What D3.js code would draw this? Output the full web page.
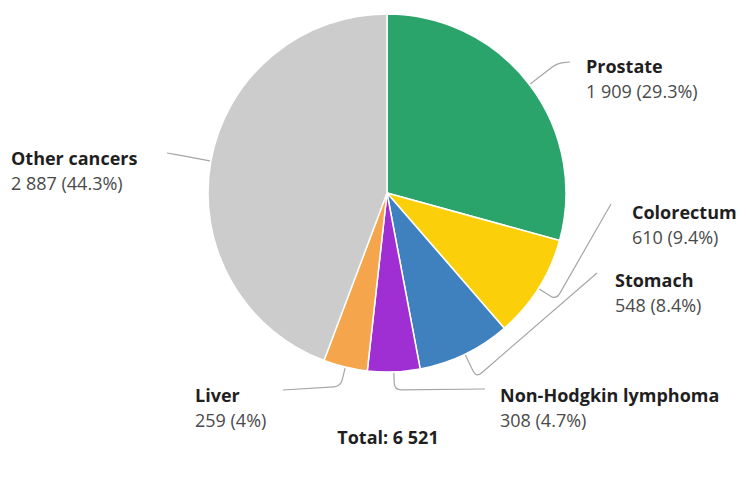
<!DOCTYPE html>
<html>
<head>
<meta charset="utf-8">
<script src="https://cdn.jsdelivr.net/npm/d3@7"></script>
<style>
  html, body { margin: 0; padding: 0; background: #ffffff; }
  svg { display: block; }
  text { font-family: "Open Sans", "Noto Sans", sans-serif; }
</style>
</head>
<body>
<svg id="chart" width="750" height="477"></svg>
<script>
// Cancer cases by site
const categories = ["Prostate", "Colorectum", "Stomach", "Non-Hodgkin lymphoma", "Liver", "Other cancers"];
const counts = [1909, 610, 548, 308, 259, 2887];
const colors = ["#2aa46b", "#fbd00b", "#3f80bf", "#a02fd3", "#f5a54b", "#cccccc"];

// Label placement: first-line centre, which side of the label the connector meets,
// radius at which the connector leaves the radial direction, connector end point.
const labelLayout = [
  { x: 586, y: 66,  side: "left",  bendR: 214, end: [570, 62] },
  { x: 632, y: 212, side: "left",  bendR: 200, end: [611, 204] },
  { x: 615, y: 280, side: "left",  bendR: 205, end: [597, 273] },
  { x: 500, y: 395, side: "left",  bendR: 197, end: [485, 389] },
  { x: 195, y: 395, side: "right", bendR: 199, end: [283, 390] },
  { x: 11,  y: 158, side: "right", bendR: 221, end: [167, 153] }
];

const W = 750, H = 477;
const cx = 387, cy = 193, radius = 179;
const fontSize = 18;

const locale = d3.formatLocale({ decimal: ".", thousands: " ", grouping: [3], currency: ["", ""] });
const fmtInt = locale.format(",d");
const total = d3.sum(counts);
const fmtPct = v => {
  const s = (Math.round(v * 1000) / 10).toFixed(1);
  return (s.endsWith(".0") ? s.slice(0, -2) : s) + "%";
};

const data = categories.map((name, i) => ({ name, value: counts[i], color: colors[i], layout: labelLayout[i] }));

const svg = d3.select("#chart");
const g = svg.append("g").attr("transform", `translate(${cx},${cy})`);

const pie = d3.pie().value(d => d.value).sort(null).startAngle(0).endAngle(2 * Math.PI);
const arcs = pie(data);

const arc = d3.arc().innerRadius(0).outerRadius(radius);

g.selectAll("path.slice")
  .data(arcs)
  .join("path")
  .attr("class", "slice")
  .attr("d", arc)
  .attr("fill", d => d.data.color)
  .attr("stroke", "#ffffff")
  .attr("stroke-width", 1.5)
  .attr("stroke-linejoin", "round");

// Point at a given radius along the slice's middle angle, in chart coordinates
function polar(d, r) {
  const a = (d.startAngle + d.endAngle) / 2;
  return [cx + r * Math.sin(a), cy - r * Math.cos(a)];
}

// Connector: radial leg out of the slice, rounded bend, then on to the label
function connectorPath(d) {
  const L = d.data.layout;
  const p0 = polar(d, radius + 1);
  const p1 = polar(d, L.bendR);
  const p2 = L.end;
  const rc = 7;
  const d01 = Math.hypot(p1[0] - p0[0], p1[1] - p0[1]);
  const d12 = Math.hypot(p2[0] - p1[0], p2[1] - p1[1]);
  const k1 = Math.min(rc, d01 / 2), k2 = Math.min(rc, d12 / 2);
  const a = [p1[0] - (p1[0] - p0[0]) / d01 * k1, p1[1] - (p1[1] - p0[1]) / d01 * k1];
  const b = [p1[0] + (p2[0] - p1[0]) / d12 * k2, p1[1] + (p2[1] - p1[1]) / d12 * k2];
  const path = d3.path();
  path.moveTo(p0[0], p0[1]);
  path.lineTo(a[0], a[1]);
  path.quadraticCurveTo(p1[0], p1[1], b[0], b[1]);
  path.lineTo(p2[0], p2[1]);
  return path.toString();
}

svg.append("g")
  .selectAll("path")
  .data(arcs)
  .join("path")
  .attr("d", connectorPath)
  .attr("fill", "none")
  .attr("stroke", "#a6a6a6")
  .attr("stroke-width", 1.2);

// Labels: category name in bold, count and share below
const labels = svg.append("g")
  .selectAll("g")
  .data(arcs)
  .join("g")
  .attr("transform", d => `translate(${d.data.layout.x},${d.data.layout.y})`);

labels.append("text")
  .attr("x", 0)
  .attr("y", 6.5)
  .attr("font-size", fontSize)
  .attr("font-weight", 700)
  .attr("fill", "#1f1f1f")
  .text(d => d.data.name);

labels.append("text")
  .attr("x", 0)
  .attr("y", 31.5)
  .attr("font-size", fontSize)
  .attr("fill", "#4a4a4a")
  .text(d => `${fmtInt(d.data.value)} (${fmtPct(d.data.value / total)})`);

svg.append("text")
  .attr("x", cx + 1)
  .attr("y", 444)
  .attr("text-anchor", "middle")
  .attr("font-size", fontSize)
  .attr("font-weight", 700)
  .attr("fill", "#1f1f1f")
  .text(`Total: ${fmtInt(total)}`);
</script>
</body>
</html>
